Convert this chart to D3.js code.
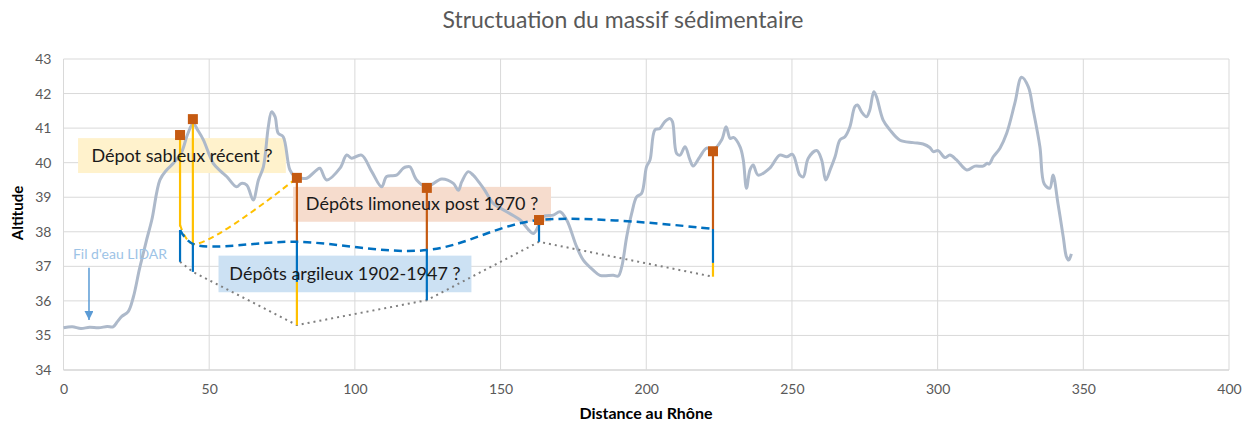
<!DOCTYPE html>
<html>
<head>
<meta charset="utf-8">
<script src="https://cdn.jsdelivr.net/npm/d3@7"></script>
<style>
  body { margin: 0; background: #fff; }
  svg { display: block; font-family: Lato, "Open Sans", sans-serif; }
</style>
</head>
<body>
<div id="chart"></div>
<script>
// Profil LIDAR : distance au Rhône / altitude
const profileDist = [0, 3, 6, 9, 12, 15, 17, 18.5, 20, 22.2, 24, 26, 27.4, 28.5, 30.3, 33.1, 35.4, 37.7, 40.5, 42.5,
  44.5, 46, 48, 51.4, 54, 56, 59.4, 61, 62.9, 65.1, 66.9, 68.6, 70.3, 71.4, 72.6, 73.7, 75.4, 77.7, 79.4, 81.5,
  83.5, 86.9, 88, 90.3, 94.9, 97.2, 98.9, 102.3, 105.8, 109.2, 110.9, 114.3, 116.6, 117.8, 118.9, 121.2, 124.6, 129.8, 133.8, 135.5,
  136.7, 138.9, 140.6, 142.9, 144.6, 147.5, 152.1, 156.7, 161.2, 162.9, 164.7, 168.1, 170.4, 172.7, 176.1, 178.4, 181.8, 184.1, 188.7, 190.4,
  191.6, 193.3, 195, 196.7, 198.4, 200.1, 201.3, 203, 204.7, 206.4, 208.1, 209, 210.4, 211.6, 213.3, 215, 216.1, 218.4, 220.7, 222.9,
  225.9, 227.4, 228.8, 229.9, 232.2, 233.3, 234.4, 235.6, 236.7, 238.4, 242.4, 245.8, 248.2, 250.2, 252.7, 253.9, 255.6, 258.5, 260.2, 261.6,
  263.1, 264.8, 266.5, 268.2, 269.9, 271.6, 272.5, 273.9, 275.6, 276.7, 278.1, 279, 281.3, 283.6, 287.1, 291.6, 295, 297.3, 298.5, 300.2,
  302.5, 304.2, 306.5, 310, 312.8, 315.6, 317, 317.7, 319.1, 321.4, 323.7, 326.5, 328.8, 331.1, 332.8, 335.1, 336.6, 338.5, 339.6, 341.3,
  343.1, 344.2, 345, 345.9];
const profileAlt = [35.22, 35.25, 35.2, 35.24, 35.22, 35.26, 35.25, 35.4, 35.55, 35.69, 36.12, 36.9, 37.38, 37.76, 38.34, 39.5, 39.79, 39.98, 40.3, 40.8,
  41.14, 40.95, 40.66, 39.98, 39.75, 39.6, 39.3, 39.4, 39.35, 38.92, 39.5, 39.88, 41.04, 41.47, 41.33, 40.85, 40.75, 39.79, 39.6, 39.55,
  39.55, 39.79, 39.84, 39.5, 39.84, 40.22, 40.13, 40.22, 39.74, 39.3, 39.6, 39.64, 39.84, 39.88, 39.88, 39.5, 39.3, 39.53, 39.4, 39.2,
  39.45, 39.74, 39.64, 39.4, 39.2, 38.82, 38.58, 38.34, 37.95, 38.15, 38.44, 38.48, 38.58, 38.34, 37.57, 37.18, 36.89, 36.74, 36.74, 36.72,
  36.99, 37.86, 38.53, 39.01, 39.11, 39.88, 40.08, 40.95, 40.99, 41.19, 41.28, 41.19, 40.27, 40.22, 40.46, 40.08, 39.9, 40.17, 40.42, 40.37,
  40.66, 41.04, 40.7, 40.73, 40.46, 40.08, 39.26, 39.79, 39.93, 39.64, 39.84, 40.22, 40.17, 40.24, 39.64, 39.59, 40.13, 40.35, 40.08, 39.5,
  39.79, 40.17, 40.66, 40.75, 41.04, 41.62, 41.67, 41.47, 41.33, 41.52, 42.05, 41.91, 41.23, 40.95, 40.65, 40.58, 40.54, 40.44, 40.32, 40.35,
  40.15, 40.22, 40.08, 39.79, 39.9, 39.9, 39.98, 39.96, 40.17, 40.42, 40.85, 41.72, 42.47, 42.2, 41.52, 40.46, 39.38, 39.26, 39.64, 38.82,
  37.86, 37.28, 37.18, 37.36];

// Sondages : surface (marqueurs)
const boreDist = [40, 44.4, 80.1, 124.7, 163.2, 222.9];
const boreTop = [40.8, 41.26, 39.56, 39.27, 38.34, 40.33];

// Couches par sondage [distance, haut, bas]
const sandLayers = [[40, 40.8, 38.15], [44.4, 41.26, 37.65], [80.1, 36.55, 35.3], [222.9, 37.1, 36.7]];
const siltLayers = [[80.1, 39.56, 37.71], [124.7, 39.27, 37.47], [222.9, 40.33, 38.08]];
const clayLayers = [[40, 38.05, 37.13], [44.4, 37.65, 36.84], [80.1, 37.71, 36.55], [124.7, 37.47, 36.02], [163.2, 38.3, 37.71], [222.9, 38.08, 37.1]];

// Interfaces
const clayTopDist = [40, 44.4, 80.1, 124.7, 163.2, 222.9];
const clayTopAlt = [38.05, 37.65, 37.71, 37.47, 38.34, 38.08];
const sandBaseDist = [40, 44.4, 80.1];
const sandBaseAlt = [38.2, 37.65, 39.56];
const clayBaseDist = [40, 44.4, 80.1, 124.7, 163.2, 222.9];
const clayBaseAlt = [37.13, 36.84, 35.3, 36.02, 37.71, 36.7];

const xTicks = [0, 50, 100, 150, 200, 250, 300, 350, 400];
const yTicks = [34, 35, 36, 37, 38, 39, 40, 41, 42, 43];
const labels = ["Dépot sableux récent ?", "Dépôts limoneux post 1970 ?", "Dépôts argileux 1902-1947 ?", "Fil d'eau LIDAR"];

const width = 1242, height = 423;
const svg = d3.select("#chart").append("svg")
  .attr("width", width)
  .attr("height", height);

const x = d3.scaleLinear().domain([0, 400]).range([63.5, 1229]);
const y = d3.scaleLinear().domain([34, 43]).range([370, 59]);

// grille
svg.append("g")
  .selectAll("line")
  .data(yTicks)
  .enter().append("line")
  .attr("x1", x(0)).attr("x2", x(400))
  .attr("y1", d => y(d)).attr("y2", d => y(d))
  .attr("stroke", d => d === 34 ? "#bfbfbf" : "#d9d9d9")
  .attr("stroke-width", 1);
svg.append("g")
  .selectAll("line")
  .data(xTicks)
  .enter().append("line")
  .attr("x1", d => x(d)).attr("x2", d => x(d))
  .attr("y1", y(34)).attr("y2", y(43))
  .attr("stroke", "#d9d9d9")
  .attr("stroke-width", 1);

// axes (texte seulement)
const xAxis = svg.append("g")
  .attr("transform", `translate(0,${y(34)})`)
  .call(d3.axisBottom(x).tickValues(xTicks).tickSize(0).tickPadding(14));
const yAxis = svg.append("g")
  .attr("transform", `translate(${x(0)},0)`)
  .call(d3.axisLeft(y).tickValues(yTicks).tickSize(0).tickPadding(12));
[xAxis, yAxis].forEach(a => {
  a.select(".domain").remove();
  a.selectAll("text")
    .attr("fill", "#595959")
    .style("font-size", "14px")
    .style("font-family", "Lato, sans-serif");
});

// encadrés
const boxes = [
  { x0: 5, x1: 76.3, a0: 40.71, a1: 39.7, fill: "#fff2cc" },
  { x0: 78.8, x1: 167.3, a0: 39.3, a1: 38.29, fill: "#f6dccd" },
  { x0: 53.2, x1: 140, a0: 37.31, a1: 36.25, fill: "#cce1f3" }
];
svg.append("g")
  .selectAll("rect")
  .data(boxes)
  .enter().append("rect")
  .attr("x", d => x(d.x0))
  .attr("y", d => y(d.a0))
  .attr("width", d => x(d.x1) - x(d.x0))
  .attr("height", d => y(d.a1) - y(d.a0))
  .attr("fill", d => d.fill);

// profil
const line = d3.line()
  .x(d => x(d[0]))
  .y(d => y(d[1]))
  .curve(d3.curveCatmullRom.alpha(0.5));
svg.append("path")
  .datum(d3.zip(profileDist, profileAlt))
  .attr("d", line)
  .attr("fill", "none")
  .attr("stroke", "#adb9ca")
  .attr("stroke-width", 3)
  .attr("stroke-linejoin", "round");

// base argiles (pointillés)
svg.append("path")
  .datum(d3.zip(clayBaseDist, clayBaseAlt))
  .attr("d", d3.line().x(d => x(d[0])).y(d => y(d[1])))
  .attr("fill", "none")
  .attr("stroke", "#7f7f7f")
  .attr("stroke-width", 2)
  .attr("stroke-dasharray", "2,4");

// couches verticales
function layers(data, color) {
  svg.append("g")
    .selectAll("line")
    .data(data)
    .enter().append("line")
    .attr("x1", d => x(d[0])).attr("x2", d => x(d[0]))
    .attr("y1", d => y(d[1])).attr("y2", d => y(d[2]))
    .attr("stroke", color)
    .attr("stroke-width", 2.2);
}
layers(sandLayers, "#ffc000");
layers(siltLayers, "#c55a11");
layers(clayLayers, "#0070c0");

// interfaces lissées
svg.append("path")
  .datum(d3.zip(sandBaseDist, sandBaseAlt))
  .attr("d", line)
  .attr("fill", "none")
  .attr("stroke", "#ffc000")
  .attr("stroke-width", 2)
  .attr("stroke-dasharray", "6,4");
svg.append("path")
  .datum(d3.zip(clayTopDist, clayTopAlt))
  .attr("d", line)
  .attr("fill", "none")
  .attr("stroke", "#0070c0")
  .attr("stroke-width", 2.5)
  .attr("stroke-dasharray", "8,5");

// marqueurs
svg.append("g")
  .selectAll("rect")
  .data(d3.zip(boreDist, boreTop))
  .enter().append("rect")
  .attr("x", d => x(d[0]) - 5)
  .attr("y", d => y(d[1]) - 5)
  .attr("width", 10)
  .attr("height", 10)
  .attr("fill", "#c55a11");

// textes des encadrés
svg.append("g")
  .selectAll("text")
  .data(boxes)
  .enter().append("text")
  .attr("x", d => (x(d.x0) + x(d.x1)) / 2)
  .attr("y", d => (y(d.a0) + y(d.a1)) / 2 + 6)
  .attr("text-anchor", "middle")
  .attr("fill", "#1a1a1a")
  .style("font-size", "18px")
  .text((d, i) => labels[i]);

// fil d'eau
svg.append("text")
  .attr("x", 120)
  .attr("y", y(37) - 7)
  .attr("text-anchor", "middle")
  .attr("fill", "#9dc3e6")
  .style("font-size", "14px")
  .text(labels[3]);
svg.append("defs").append("marker")
  .attr("id", "head")
  .attr("viewBox", "0 0 10 10")
  .attr("refX", 10).attr("refY", 5)
  .attr("markerWidth", 10).attr("markerHeight", 9)
  .attr("markerUnits", "userSpaceOnUse")
  .attr("orient", "auto")
  .append("path")
  .attr("d", "M0,0L10,5L0,10Z")
  .attr("fill", "#5b9bd5");
svg.append("line")
  .attr("x1", x(8.75)).attr("x2", x(8.75))
  .attr("y1", y(36.96)).attr("y2", y(35.45))
  .attr("stroke", "#5b9bd5")
  .attr("stroke-width", 1.5)
  .attr("marker-end", "url(#head)");

// titres
svg.append("text")
  .attr("x", 623)
  .attr("y", 28)
  .attr("text-anchor", "middle")
  .attr("fill", "#595959")
  .style("font-size", "23px")
  .text("Structuation du massif sédimentaire");
svg.append("text")
  .attr("x", 646)
  .attr("y", 419)
  .attr("text-anchor", "middle")
  .attr("fill", "#000")
  .style("font-size", "16px")
  .style("font-weight", "bold")
  .text("Distance au Rhône");
svg.append("text")
  .attr("transform", "translate(23,213) rotate(-90)")
  .attr("text-anchor", "middle")
  .attr("fill", "#000")
  .style("font-size", "15px")
  .style("font-weight", "bold")
  .text("Altitude");
</script>
</body>
</html>
